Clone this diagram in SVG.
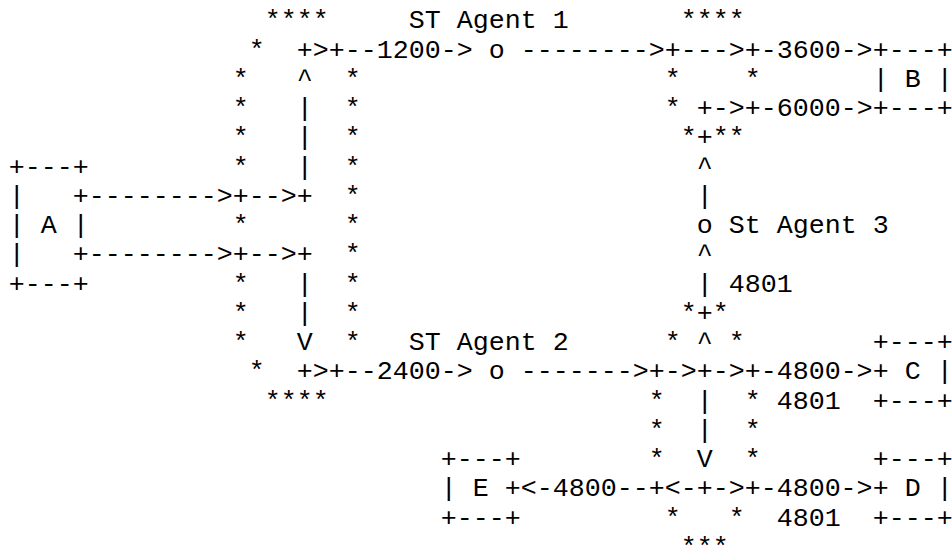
<svg xmlns="http://www.w3.org/2000/svg" width="952" height="552" viewBox="0 0 952 552">
<style>
text{font-family:"Liberation Mono","Courier New",monospace;font-size:26.67px;fill:#000;white-space:pre}
</style>
<rect width="952" height="552" fill="#fff"/>
<g transform="translate(8.7,28.3)">
<g id="host-A">
<text x="0" y="146.3">+---+</text>
<text x="0" y="175.56">|</text>
<text x="0" y="204.82">| A |</text>
<text x="0" y="234.08">|</text>
<text x="0" y="263.34">+---+</text>
</g>
<g id="host-B">
<text x="864" y="29.26">+---+</text>
<text x="864" y="58.52">| B |</text>
<text x="864" y="87.78">+---+</text>
</g>
<g id="host-C">
<text x="864" y="321.86">+---+</text>
<text x="864" y="351.12">+ C |</text>
<text x="864" y="380.38">+---+</text>
</g>
<g id="host-D">
<text x="864" y="438.9">+---+</text>
<text x="864" y="468.16">+ D |</text>
<text x="864" y="497.42">+---+</text>
</g>
<g id="host-E">
<text x="432" y="438.9">+---+</text>
<text x="432" y="468.16">| E</text>
<text x="432" y="497.42">+---+</text>
</g>
<g id="router-1">
<text x="256" y="0">****</text>
<text x="240" y="29.26">*</text>
<text x="224" y="58.52">*</text><text x="336" y="58.52">*</text>
<text x="224" y="87.78">*</text><text x="336" y="87.78">*</text>
<text x="224" y="117.04">*</text><text x="336" y="117.04">*</text>
<text x="224" y="146.3">*</text><text x="336" y="146.3">*</text>
<text x="336" y="175.56">*</text>
<text x="224" y="204.82">*</text><text x="336" y="204.82">*</text>
<text x="336" y="234.08">*</text>
<text x="224" y="263.34">*</text><text x="336" y="263.34">*</text>
<text x="224" y="292.6">*</text><text x="336" y="292.6">*</text>
<text x="224" y="321.86">*</text><text x="336" y="321.86">*</text>
<text x="240" y="351.12">*</text>
<text x="256" y="380.38">****</text>
</g>
<g id="router-2">
<text x="672" y="0">****</text>
<text x="656" y="58.52">*</text><text x="736" y="58.52">*</text>
<text x="656" y="87.78">*</text>
<text x="672" y="117.04">*</text><text x="704" y="117.04">**</text>
</g>
<g id="router-3">
<text x="672" y="292.6">*</text><text x="704" y="292.6">*</text>
<text x="656" y="321.86">*</text><text x="720" y="321.86">*</text>
<text x="640" y="380.38">*</text><text x="736" y="380.38">*</text>
<text x="640" y="409.64">*</text><text x="736" y="409.64">*</text>
<text x="640" y="438.9">*</text><text x="736" y="438.9">*</text>
<text x="656" y="497.42">*</text><text x="720" y="497.42">*</text>
<text x="672" y="526.68">***</text>
</g>
<g id="agent-1">
<text x="400" y="0">ST Agent 1</text>
<text x="480" y="29.26">o</text>
</g>
<g id="agent-2">
<text x="400" y="321.86">ST Agent 2</text>
<text x="480" y="351.12">o</text>
</g>
<g id="agent-3">
<text x="688" y="204.82">o St Agent 3</text>
</g>
<g id="connectors">
<text x="288" y="29.26">+&gt;+--1200-&gt;</text>
<text x="512" y="29.26">--------&gt;+---&gt;+-3600-&gt;</text>
<text x="288" y="58.52">^</text>
<text x="288" y="87.78">|</text>
<text x="688" y="87.78">+-&gt;+-6000-&gt;</text>
<text x="288" y="117.04">|</text>
<text x="688" y="117.04">+</text>
<text x="288" y="146.3">|</text>
<text x="688" y="146.3">^</text>
<text x="64" y="175.56">+--------&gt;+--&gt;+</text>
<text x="688" y="175.56">|</text>
<text x="64" y="234.08">+--------&gt;+--&gt;+</text>
<text x="688" y="234.08">^</text>
<text x="288" y="263.34">|</text>
<text x="688" y="263.34">|</text>
<text x="720" y="263.34">4801</text>
<text x="288" y="292.6">|</text>
<text x="688" y="292.6">+</text>
<text x="288" y="321.86">V</text>
<text x="688" y="321.86">^</text>
<text x="288" y="351.12">+&gt;+--2400-&gt;</text>
<text x="512" y="351.12">-------&gt;+-&gt;+-&gt;+-4800-&gt;</text>
<text x="688" y="380.38">|</text>
<text x="768" y="380.38">4801</text>
<text x="688" y="409.64">|</text>
<text x="688" y="438.9">V</text>
<text x="496" y="468.16">+&lt;-4800--+&lt;-+-&gt;+-4800-&gt;</text>
<text x="768" y="497.42">4801</text>
</g>
</g>
</svg>
